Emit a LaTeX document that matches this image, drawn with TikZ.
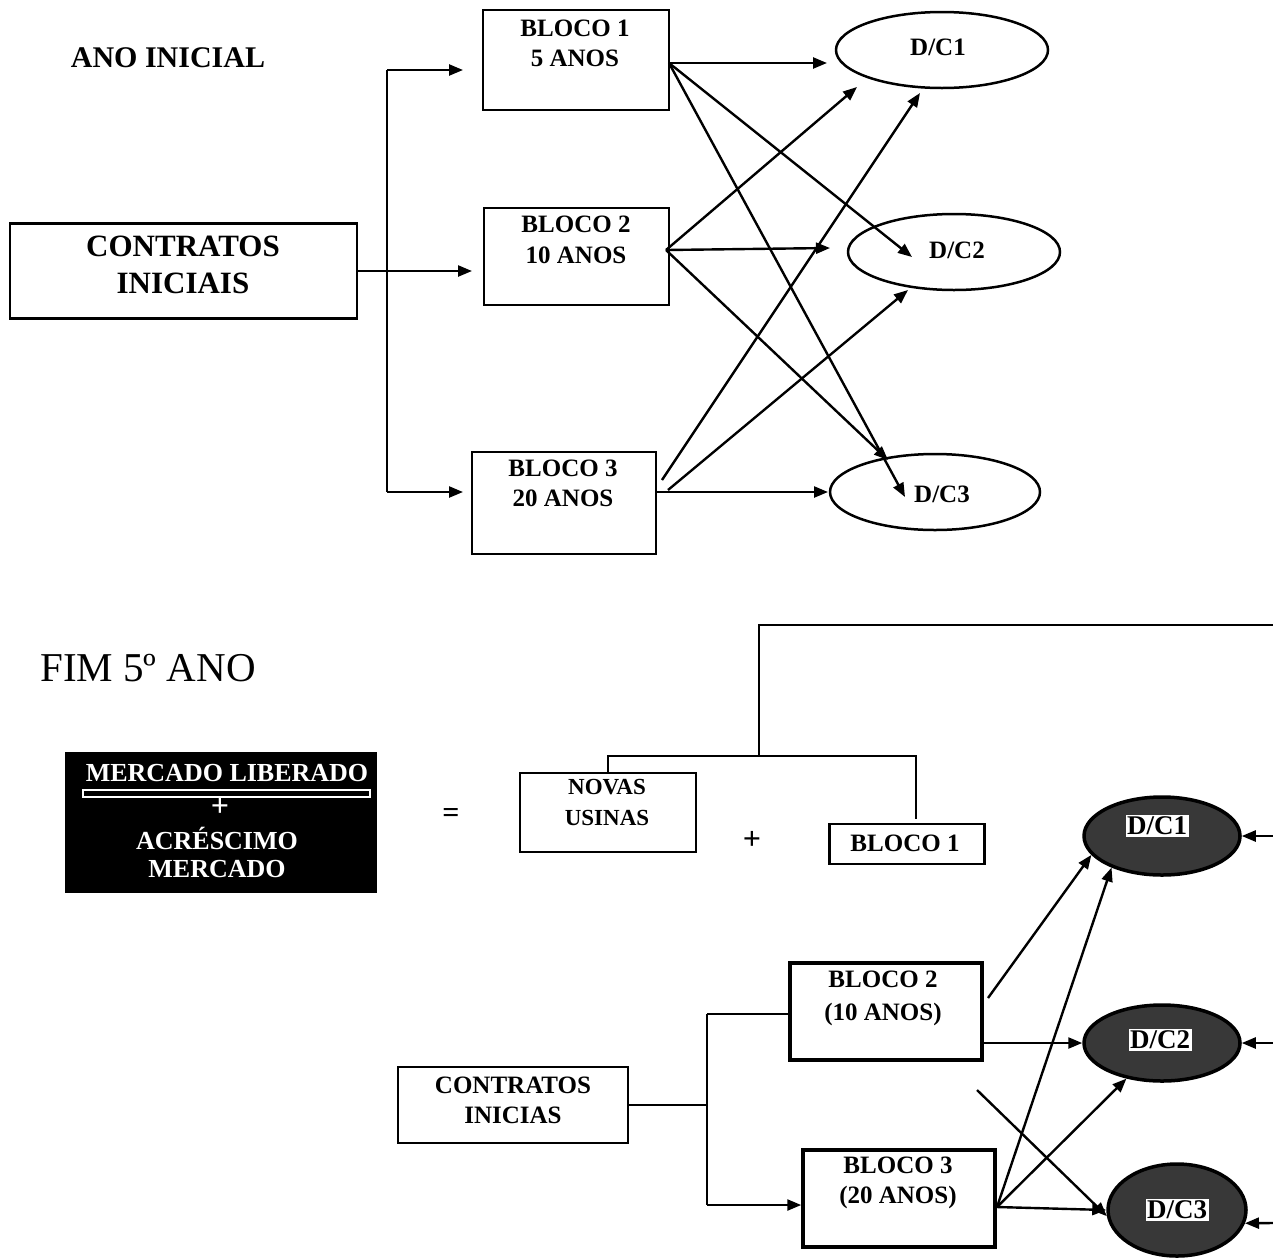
\documentclass[tikz,border=0pt]{standalone}
\usepackage{fontspec}
\setmainfont{Liberation Serif}
\usetikzlibrary{arrows.meta,shapes.geometric,calc}
\begin{document}
\begin{tikzpicture}[x=1pt,y=-1pt,
 ln/.style={line width=2.5pt},
 arr/.style={line width=2.4pt,-{Triangle[length=14pt,width=11pt]}},
 box/.style={draw,line width=2.8pt,inner sep=0pt},
 ell/.style={ellipse,draw,line width=2.5pt,inner sep=0pt},
 dell/.style={ellipse,draw,fill=black!78,line width=3.5pt,inner sep=0pt},
 txt/.style 2 args={inner sep=0pt,align=center,font=\bfseries\fontsize{#1}{#2}\selectfont},
]
\useasboundingbox (0,0) rectangle (1273,1259);

% ---------------- ANO INICIAL ----------------
\node[txt={30}{36}] (t1) at (168,58) {ANO INICIAL};
\node[box,minimum width=347pt,minimum height=95pt] (ci) at (183.5,271) {};
\node[txt={31}{37}] (cit) at (183,265) {CONTRATOS\\INICIAIS};

\node[box,minimum width=186pt,minimum height=100pt] (b1) at (576,60) {};
\node[txt={25}{30}] (b1t) at (575,43) {BLOCO 1\\5 ANOS};
\node[box,minimum width=185pt,minimum height=97pt] (b2) at (576.5,256.5) {};
\node[txt={25}{31}] (b2t) at (576,240) {BLOCO 2\\10 ANOS};
\node[box,minimum width=184pt,minimum height=102pt] (b3) at (564,503) {};
\node[txt={25}{30}] (b3t) at (563,483) {BLOCO 3\\20 ANOS};

\node[ell,minimum width=212pt,minimum height=76pt] (c1) at (942,50) {};
\node[txt={25}{30}] (c1t) at (938,47) {D/C1};
\node[ell,minimum width=212pt,minimum height=76pt] (c2) at (954,252) {};
\node[txt={25}{30}] (c2t) at (957,250) {D/C2};
\node[ell,minimum width=210pt,minimum height=76pt] (c3) at (935,492) {};
\node[txt={25}{30}] (c3t) at (942,494) {D/C3};

\coordinate (v1) at (387,70);
\coordinate (v3) at (387,492);
\coordinate (a1) at (463,70);
\coordinate (a2) at (472,271);
\coordinate (a3) at (463,492);
\draw[ln] (v1) -- (v3);
\draw[arr] (v1) -- (a1);
\draw[arr] (ci.east) -- (a2);
\draw[arr] (v3) -- (a3);

\coordinate (p1) at (669,63);
\coordinate (p2) at (666,250);
\coordinate (p3a) at (662,480);
\coordinate (p3b) at (668,490);
\coordinate (p3c) at (656,492);
\coordinate (e11) at (827,63);
\coordinate (e12) at (912,257);
\coordinate (e13) at (905,497);
\coordinate (e21) at (857,87);
\coordinate (e22) at (830,248);
\coordinate (e23) at (888,460);
\coordinate (e31) at (920,93);
\coordinate (e32) at (908,290);
\coordinate (e33) at (828,492);
\draw[arr] (p1) -- (e11);
\draw[arr] (p1) -- (e12);
\draw[arr] (p1) -- (e13);
\draw[arr] (p2) -- (e21);
\draw[arr] (p2) -- (e22);
\draw[arr] (p2) -- (e23);
\draw[arr] (p3a) -- (e31);
\draw[arr] (p3b) -- (e32);
\draw[arr] (p3c) -- (e33);

% ---------------- FIM 5o ANO ----------------
\node[inner sep=0pt,font=\fontsize{41}{48}\selectfont] (t2) at (148,668) {FIM 5º ANO};

\node[box,fill=black,minimum width=309pt,minimum height=139pt] (ml) at (221,822.5) {};
\node[txt={26}{30},text=white] (mlt) at (227,773) {MERCADO LIBERADO};
\draw[white,line width=1.4pt] (83,790) rectangle (370,797);
\node[txt={32}{36},text=white] (mlp) at (220,807) {+};
\node[txt={26}{28},text=white] (mlb) at (217,852) {ACRÉSCIMO\\MERCADO};

\node[inner sep=0pt,font=\bfseries\fontsize{30}{34}\selectfont] (eq) at (451,815) {=};
\node[txt={32}{36}] (pl) at (752,840) {+};

\node[box,minimum width=176pt,minimum height=79pt] (nu) at (608,812.5) {};
\node[txt={23}{31}] (nut) at (607,802) {NOVAS\\USINAS};
\node[box,minimum width=155pt,minimum height=40pt] (k1) at (907,844) {};
\node[txt={25}{30}] (k1t) at (905,843) {BLOCO 1};

\coordinate (h1) at (916,756);
\coordinate (h1b) at (916,819);
\coordinate (j1) at (759,756);
\coordinate (tr) at (1273,625);
\draw[ln] (nu.north) |- (h1) -- (h1b);
\draw[ln] (j1) |- (tr);

\node[box,minimum width=230pt,minimum height=76pt] (ci2) at (513,1105) {};
\node[txt={25}{30}] (ci2t) at (513,1100) {CONTRATOS\\INICIAS};

\node[box,line width=3.5pt,minimum width=192pt,minimum height=97pt] (bb2) at (886,1011.5) {};
\node[txt={25}{33}] (bb2t) at (883,998) {BLOCO 2\\(10 ANOS)};
\node[box,line width=3.5pt,minimum width=192pt,minimum height=97pt] (bb3) at (899,1198.5) {};
\node[txt={25}{30}] (bb3t) at (898,1183) {BLOCO 3\\(20 ANOS)};

\coordinate (vt) at (707,1014);
\coordinate (vb) at (707,1205);
\draw[ln] (ci2.east) -- (ci2.east -| vt);
\draw[ln] (vt) -- (vb);
\draw[ln] (vt) -- (bb2.west |- vt);
\draw[arr] (vb) -- (bb3.west |- vb);

\node[dell,minimum width=156pt,minimum height=78pt] (d1) at (1162,836) {};
\node[txt={27}{30},fill=white,inner sep=1.5pt] (d1t) at (1157,826) {D/C1};
\node[dell,minimum width=156pt,minimum height=76pt] (d2) at (1162,1043) {};
\node[txt={27}{30},fill=white,inner sep=1.5pt] (d2t) at (1160,1040) {D/C2};
\node[dell,minimum width=138pt,minimum height=92pt] (d3) at (1177,1210) {};
\node[txt={27}{30},fill=white,inner sep=1.5pt] (d3t) at (1177,1210) {D/C3};

\coordinate (q1) at (988,998);
\coordinate (q2) at (982,1043);
\coordinate (q3) at (997,1207);
\coordinate (q4) at (977,1090);
\coordinate (r1) at (1273,836);
\coordinate (r2) at (1273,1043);
\coordinate (r3) at (1273,1223);
\draw[arr] (q1) -- (d1.195);
\draw[arr] (q3) -- (d1.212);
\draw[arr] (q2) -- (d2.west);
\draw[arr] (q3) -- (d2.225);
\draw[arr] (q3) -- (d3.west);
\draw[arr] (q4) -- (d3.185);
\draw[arr] (r1) -- (d1.east);
\draw[arr] (r2) -- (d2.east);
\draw[arr] (r3) -- (d3.349);
\end{tikzpicture}
\end{document}
